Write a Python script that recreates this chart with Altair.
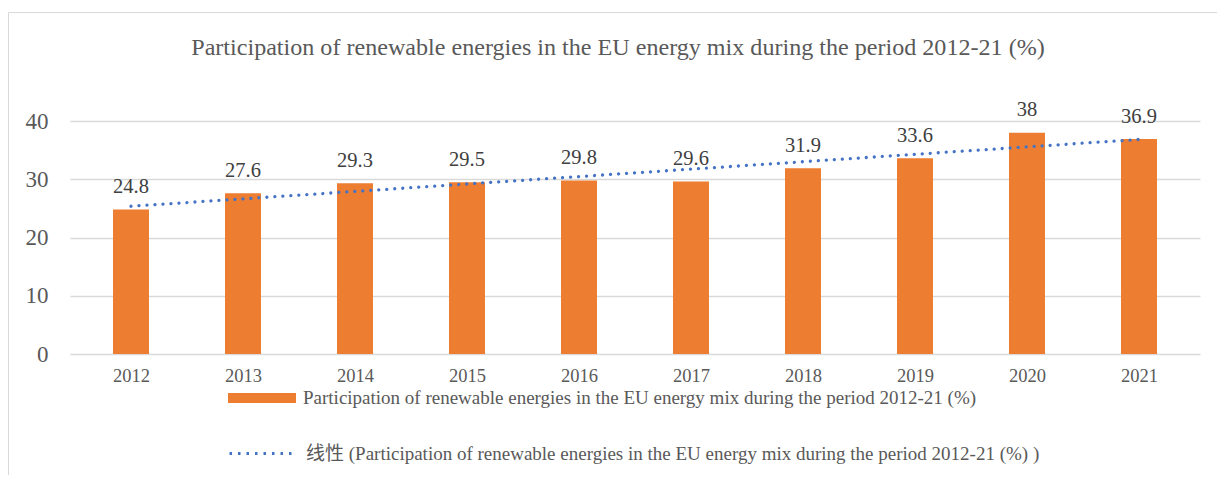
import altair as alt
import pandas as pd

# ---- data ----
years = [2012, 2013, 2014, 2015, 2016, 2017, 2018, 2019, 2020, 2021]
values = [24.8, 27.6, 29.3, 29.5, 29.8, 29.6, 31.9, 33.6, 38, 36.9]
y_ticks = [0, 10, 20, 30, 40]
series_name = "Participation of renewable energies in the EU energy mix during the period 2012-21 (%)"
trend_name = "线性 (Participation of renewable energies in the EU energy mix during the period 2012-21 (%) )"
title_text = "Participation of renewable energies in the EU energy mix during the period 2012-21 (%)"

df = pd.DataFrame({
    "year": years,
    "value": values,
    "label": [f"{v:g}" for v in values],
    "series": [series_name] * len(years),
})
one = pd.DataFrame({"k": [0]})

SERIF = "Liberation Serif"
LEG_FONT = "Liberation Serif, Noto Sans CJK SC"
GREY = "#595959"

x_enc = alt.X(
    "year:Q",
    scale=alt.Scale(domain=[2011.5, 2021.5], nice=False, zero=False),
    axis=alt.Axis(values=years, format="d", title=None, grid=False, domain=False,
                  ticks=False, labelFont=SERIF, labelFontSize=18.5, labelColor=GREY,
                  labelPadding=12),
)
y_enc = alt.Y(
    "value:Q",
    scale=alt.Scale(domain=[0, 40], nice=False),
    axis=alt.Axis(values=y_ticks, title=None, domain=False, ticks=False, grid=True,
                  gridColor="#d9d9d9", gridWidth=1.3, labelFont=SERIF,
                  labelFontSize=23, labelColor=GREY, labelPadding=22),
)

frame = alt.Chart(one).mark_rect(fillOpacity=0, stroke="#d9d9d9", strokeWidth=1).encode(
    x=alt.value(-61.5), x2=alt.value(1400), y=alt.value(-108.5), y2=alt.value(600)
)

title = alt.Chart(one).mark_text(
    text=title_text, font=SERIF, fontSize=24.1, color=GREY, align="center",
    baseline="alphabetic"
).encode(x=alt.value(548), y=alt.value(-66))

bars = alt.Chart(df).mark_bar(size=36).encode(
    x=x_enc,
    y=y_enc,
    color=alt.Color(
        "series:N",
        scale=alt.Scale(domain=[series_name], range=["#ED7D31"]),
        legend=alt.Legend(
            title=None, orient="none", legendX=158, legendY=243, padding=0,
            symbolType="M-1,-0.147H1V0.147H-1Z", symbolSize=4624,
            symbolStrokeWidth=0, symbolOpacity=1, labelFont=LEG_FONT,
            labelFontSize=19, labelColor=GREY, labelOffset=7, labelLimit=0,
        ),
    ),
)

trend = alt.Chart(df).transform_regression("year", "value").transform_calculate(
    series="'" + trend_name + "'"
).mark_line(strokeDash=[0.01, 8], strokeCap="round", strokeWidth=3.3).encode(
    x=alt.X("year:Q"),
    y=alt.Y("value:Q"),
    color=alt.Color(
        "series:N",
        scale=alt.Scale(domain=[trend_name], range=["#4472C4"]),
        legend=alt.Legend(
            title=None, orient="none", legendX=158, legendY=297, padding=0,
            symbolType="stroke", symbolSize=4624, symbolStrokeWidth=3,
            symbolDash=[2.5, 6], labelFont=LEG_FONT, labelFontSize=19,
            labelColor=GREY, labelOffset=7, labelLimit=0,
        ),
    ),
)

labels = alt.Chart(df).mark_text(
    dy=-16.5, baseline="alphabetic", font=SERIF, fontSize=20.5, color="#404040"
).encode(x=alt.X("year:Q"), y=alt.Y("value:Q"), text="label:N")

chart = alt.layer(frame, bars, trend, labels, title).resolve_scale(
    color="independent"
).properties(
    width=1130, height=233,
    autosize=alt.AutoSizeParams(type="none"),
    padding={"left": 62, "top": 113, "right": 17, "bottom": 121},
).configure_view(stroke=None)

chart.save("out.html", embed_options={"renderer": "svg", "actions": False})
